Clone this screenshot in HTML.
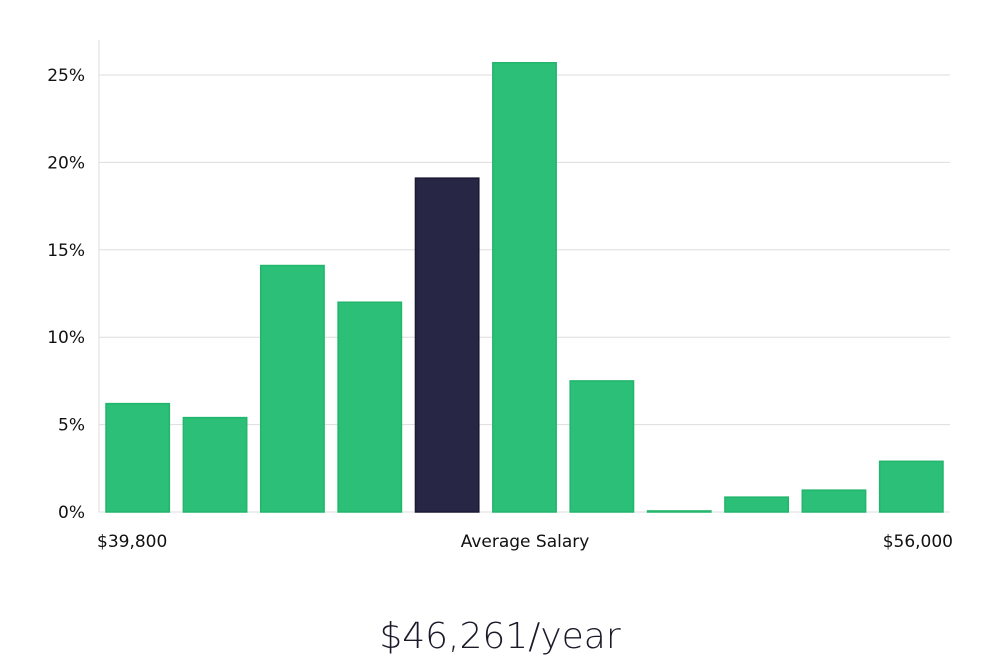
<!DOCTYPE html>
<html><head><meta charset="utf-8"><style>
body{margin:0;background:#fff;width:1000px;height:660px;overflow:hidden;font-family:"DejaVu Sans","Liberation Sans",sans-serif;}
</style></head><body>
<svg id="chart" width="1000" height="660" xmlns="http://www.w3.org/2000/svg">
<g id="grid"></g><g id="bars"></g><g id="labels"></g>
<text x="500" y="648" text-anchor="middle" font-size="36" fill="#1a1a2a" font-family="'DejaVu Sans','Liberation Sans',sans-serif" font-weight="300">$46,261/year</text>
</svg>
<script>
const categories=["b1","b2","b3","b4","b5","b6","b7","b8","b9","b10","b11"];
const values=[6.2,5.4,14.1,12.0,19.1,25.7,7.5,0.06,0.85,1.25,2.9];
const highlight=[false,false,false,false,true,false,false,false,false,false,false];
const yTicks=[0,5,10,15,20,25];
const xLabels=["$39,800","Average Salary","$56,000"];
const NS="http://www.w3.org/2000/svg";
const x0=99,x1=950,yBase=512,pxPer=17.48;
const y=v=>yBase-v*pxPer;
const step=(x1-x0)/categories.length;
const bx=i=>x0+i*step+7;
function mk(t,a,p){const e=document.createElementNS(NS,t);for(const k in a)e.setAttribute(k,a[k]);p.appendChild(e);return e;}
const grid=document.getElementById('grid'),bars=document.getElementById('bars'),labels=document.getElementById('labels');
const ax=mk('line',{x1:x0,x2:x0,y1:40,y2:yBase,stroke:'#ddd'},grid);


yTicks.forEach(t=>{
  const l=mk('line',{x1:x0,x2:x1,y1:y(t),y2:y(t),stroke:'#ddd'},grid);
  
  
  const tx=mk('text',{x:85,y:y(t)+6,'text-anchor':'end','font-size':17,fill:'#111'},labels);
  tx.textContent=t+'%';
  
  
});
values.forEach((v,i)=>{
  const r=mk('rect',{x:bx(i),y:y(v),width:step-14,height:Math.max(1,v*pxPer),fill:highlight[i]?'#272644':'#2bbf77',stroke:highlight[i]?'#1a1a33':'#22b56c','stroke-width':1.5},bars);
  
  
});
const xl=[[97,'start'],[525,'middle'],[953,'end']];
xLabels.forEach((s,i)=>{
  const t=mk('text',{x:xl[i][0],y:547,'text-anchor':xl[i][1],'font-size':17,fill:'#111'},labels);
  t.textContent=s;
  
  
});
</script>
</body></html>
